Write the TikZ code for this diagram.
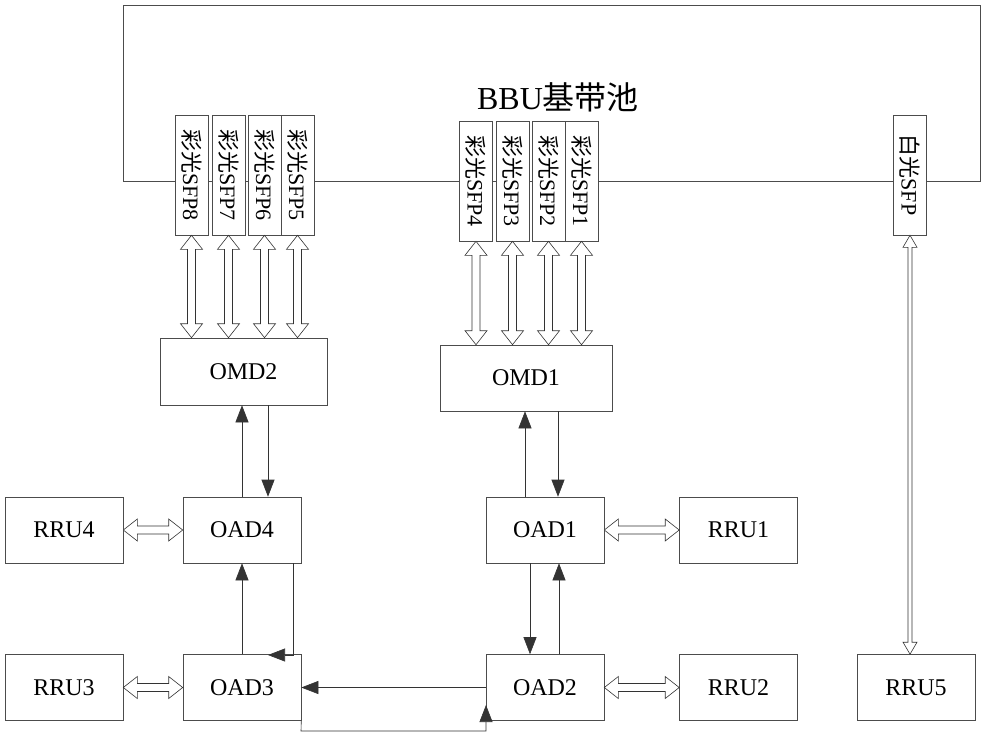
\documentclass[tikz,border=0pt]{standalone}
\usepackage{fontspec}
\setmainfont{Liberation Serif}
\newfontfamily\cjk{Noto Sans CJK SC}
\usetikzlibrary{arrows.meta,calc}
\newcommand\vdarr[2]{\path[dbl] let \p1=(#1), \p2=(#2) in
  (\x1,\y1) -- (\x1+11,\y1-14) -- (\x1+4,\y1-14) -- (\x1+4,\y2+14) -- (\x1+11,\y2+14) -- (\x1,\y2)
  -- (\x1-11,\y2+14) -- (\x1-4,\y2+14) -- (\x1-4,\y1-14) -- (\x1-11,\y1-14) -- cycle;}
\newcommand\hdarr[2]{\path[dbl] let \p1=(#1), \p2=(#2) in
  (\x1,\y1) -- (\x1+14,\y1+11) -- (\x1+14,\y1+4) -- (\x2-14,\y1+4) -- (\x2-14,\y1+11) -- (\x2,\y1)
  -- (\x2-14,\y1-11) -- (\x2-14,\y1-4) -- (\x1+14,\y1-4) -- (\x1+14,\y1-11) -- cycle;}
\begin{document}
\begin{tikzpicture}[x=1pt,y=-1pt,
  box/.style={draw=black!70,line width=0.6pt,inner sep=0pt,font=\fontsize{24}{24}\selectfont},
  sfp/.style={box,minimum width=33pt,minimum height=120pt,font=\fontsize{22}{22}\selectfont},
  dbl/.style={draw=black!80,fill=white,line width=0.6pt},
  sarr/.style={draw=black!80,line width=0.6pt,-{Triangle[length=17pt,width=13pt]}}]
\useasboundingbox (0,0) rectangle (1000,734);
\node[box,minimum width=857pt,minimum height=176pt] (bbu) at (551.5,93) {};
\node[font=\fontsize{32}{32}\selectfont] (bbul) at (558,97) {BBU{\cjk 基带池}};
\foreach \n/\x/\y in {8/191.5/175,7/228.5/175,6/264.5/175,5/297.5/175,4/476/181,3/512.5/181,2/548.5/181,1/581.5/181}{
  \node[sfp,fill=white] (s\n) at (\x,\y) {\rotatebox{-90}{{\cjk 彩光}SFP\n}};
}
\node[sfp,fill=white] (sw) at (910,175) {\rotatebox{-90}{{\cjk 白光}SFP}};
\node[box,minimum width=167pt,minimum height=67pt] (omd2) at (243.5,371.5) {OMD2};
\node[box,minimum width=172pt,minimum height=66pt] (omd1) at (526,378) {OMD1};
\foreach \nm/\t/\x/\y in {oad4/OAD4/242/530,oad3/OAD3/242/687.5,oad1/OAD1/545/530,oad2/OAD2/545/687.5,
  rru4/RRU4/64/530,rru3/RRU3/64/687.5,rru1/RRU1/738.5/530,rru2/RRU2/738.5/687.5,rru5/RRU5/916/687.5}{
  \node[box,minimum width=118pt,minimum height=66pt] (\nm) at (\x,\y) {\t};
}
\vdarr{s8.south}{omd2.north}
\vdarr{s7.south}{omd2.north}
\vdarr{s6.south}{omd2.north}
\vdarr{s5.south}{omd2.north}
\vdarr{s4.south}{omd1.north}
\vdarr{s3.south}{omd1.north}
\vdarr{s2.south}{omd1.north}
\vdarr{s1.south}{omd1.north}
\path[dbl] let \p1=(sw.south), \p2=(rru5.north) in
  (\x1,\y1) -- (\x1+7,\y1-12) -- (\x1+2,\y1-12) -- (\x1+2,\y2+12) -- (\x1+7,\y2+12) -- (\x1,\y2)
  -- (\x1-7,\y2+12) -- (\x1-2,\y2+12) -- (\x1-2,\y1-12) -- (\x1-7,\y1-12) -- cycle;
\hdarr{rru4.east}{oad4.west}
\hdarr{rru3.east}{oad3.west}
\hdarr{oad1.east}{rru1.west}
\hdarr{oad2.east}{rru2.west}
\draw[sarr] (oad4.north -| 242,0) -- (omd2.south -| 242,0);
\draw[sarr] (omd2.south -| 268,0) -- (oad4.north -| 268,0);
\draw[sarr] (oad3.north) -- (oad4.south);
\draw[sarr] (oad1.north -| 525,0) -- (omd1.south -| 525,0);
\draw[sarr] (omd1.south -| 558,0) -- (oad1.north -| 558,0);
\draw[sarr] (oad1.south -| 530,0) -- (oad2.north -| 530,0);
\draw[sarr] (oad2.north -| 559,0) -- (oad1.south -| 559,0);
\draw[sarr] (oad2.west) -- (oad3.east);
\coordinate (c1) at (293,655);
\draw[sarr] (oad4.south -| 293,0) -- (c1) -- ++(-25,0);
\coordinate (c2) at (301,731);
\coordinate (c3) at (486,731);
\draw[sarr] (oad3.south east) -- (c2) -- (c3) -- (486,705);
\end{tikzpicture}
\end{document}
